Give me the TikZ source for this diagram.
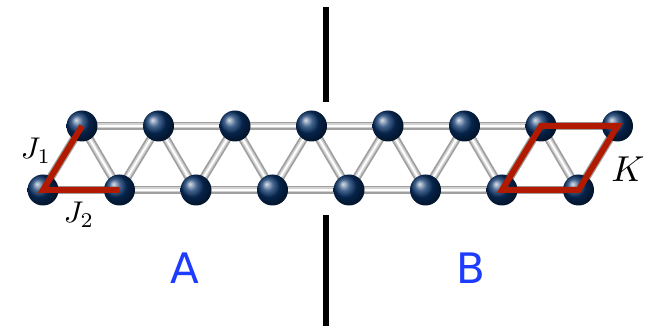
\documentclass[tikz,border=0pt]{standalone}
\usepackage{graphicx}
\usepackage{fontspec}
\newfontfamily\labelfont{DejaVu Sans}
\usetikzlibrary{backgrounds}

\definecolor{atomblue}{RGB}{8,50,105}
\definecolor{bondred}{RGB}{178,26,0}
\definecolor{sideblue}{RGB}{30,60,255}

\tikzset{
atom/.style={circle, minimum size=31pt, inner sep=0pt, shading=ball, ball color=atomblue},
bond/.style={line width=8.5pt, gray!75, postaction={draw, line width=5pt, gray!35}},
shine/.style={line width=2pt, white},
coupling/.style={line width=6pt, bondred, line join=miter},
cut/.style={line width=6pt, black},
side/.style={font=\labelfont\fontsize{42}{46}\selectfont, text=sideblue}
}

\begin{document}
\begin{tikzpicture}[x=1pt,y=-1pt]
\useasboundingbox (0,0) rectangle (654,328);

% atoms of the ladder, top and bottom rows
\foreach \i in {1,...,8} {
  \node[atom] (t\i) at ({82+76.5*(\i-1)},126) {};
  \node[atom] (b\i) at ({43+76.5*(\i-1)},190) {};
}

% bonds behind the atoms
\begin{scope}[on background layer]
\foreach \i [evaluate=\i as \j using int(\i+1)] in {1,...,7} {
  \draw[bond] (t\i.center) -- (t\j.center);
  \draw[bond] (b\i.center) -- (b\j.center);
  \draw[bond] (t\i.center) -- (b\j.center);
}
\foreach \i in {1,...,8}
  \draw[bond] (b\i.center) -- (t\i.center);
\foreach \i [evaluate=\i as \j using int(\i+1)] in {1,...,7} {
  \draw[shine] (t\i.center) -- (t\j.center);
  \draw[shine] (b\i.center) -- (b\j.center);
  \draw[shine] (t\i.center) -- (b\j.center);
}
\foreach \i in {1,...,8}
  \draw[shine] (b\i.center) -- (t\i.center);
\end{scope}

% couplings J1, J2 and the ring K
\draw[coupling] (t1.center) -- (b1.center) -- (b2.center);
\draw[coupling] (b7.center) -- (t7.center) -- (t8.center) -- (b8.center) -- cycle;

\node (j1) at (36,151) {\scalebox{3}{$J_1$}};
\node (j2) at (79,215) {\scalebox{3}{$J_2$}};
\node (k) at (628,169) {\scalebox{3.6}{$K$}};

% cut between the two halves
\coordinate (cut1) at (326,7);
\coordinate (cut2) at (326,102);
\coordinate (cut3) at (326,215);
\coordinate (cut4) at (326,326);
\draw[cut] (cut1) -- (cut2);
\draw[cut] (cut3) -- (cut4);

\node[side] (A) at (185,268) {A};
\node[side] (B) at (471,268) {B};

\end{tikzpicture}
\end{document}
